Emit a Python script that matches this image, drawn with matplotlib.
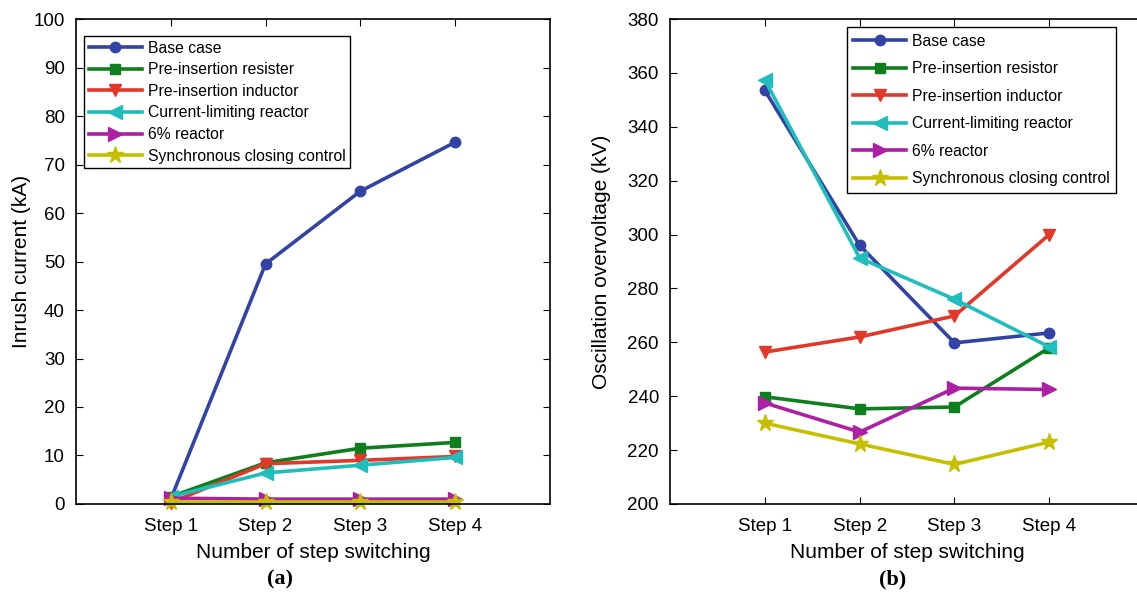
import numpy as np
import matplotlib.pyplot as plt

plt.rcParams['font.family'] = ['Liberation Sans', 'DejaVu Sans']

steps = ['Step 1', 'Step 2', 'Step 3', 'Step 4']
x = np.arange(1, 5)

# inrush current (kA)
inrush_base = [1.0, 49.5, 64.5, 74.6]
inrush_res = [1.5, 8.5, 11.5, 12.7]
inrush_ind = [0.3, 8.3, 9.0, 9.8]
inrush_clr = [1.5, 6.4, 8.0, 9.6]
inrush_6pct = [1.2, 1.0, 1.0, 1.0]
inrush_sync = [0.5, 0.5, 0.5, 0.5]

# oscillation overvoltage (kV)
ov_base = [353.5, 296.0, 259.8, 263.5]
ov_res = [239.8, 235.3, 236.0, 258.0]
ov_ind = [256.4, 262.0, 269.8, 300.0]
ov_clr = [357.4, 291.3, 276.0, 258.3]
ov_6pct = [237.5, 226.7, 243.0, 242.5]
ov_sync = [230.0, 222.3, 214.7, 223.0]

colors = ['#3343a3', '#0e7f1c', '#e3372a', '#20bdbd', '#ad1fa3', '#c6bf00']
markers = ['o', 's', 'v', '<', '>', '*']
msizes = [7.5, 7.5, 8.5, 9.5, 9.5, 12.5]

labels_a = ['Base case', 'Pre-insertion resister', 'Pre-insertion inductor',
            'Current-limiting reactor', '6% reactor', 'Synchronous closing control']
labels_b = ['Base case', 'Pre-insertion resistor', 'Pre-insertion inductor',
            'Current-limiting reactor', '6% reactor', 'Synchronous closing control']

fig = plt.figure(figsize=(11.37, 5.98), dpi=100)
ax1 = fig.add_axes([0.0668, 0.1572, 0.4169, 0.811])
ax2 = fig.add_axes([0.5893, 0.1572, 0.4169, 0.811])

def draw(ax, series, labels):
    for i, ys in enumerate(series):
        ax.plot(x, ys, color=colors[i], marker=markers[i], ms=msizes[i], lw=2.6,
                mec=colors[i], mfc=colors[i], label=labels[i], clip_on=False)
    ax.set_xlim(0, 5)
    ax.set_xticks(x)
    ax.set_xticklabels(steps)
    ax.tick_params(direction='in', top=True, right=True, labelsize=13.5, length=5)
    ax.tick_params(axis='x', pad=10)
    ax.tick_params(axis='y', pad=8)
    ax.set_xlabel('Number of step switching', fontsize=15, labelpad=6)
    for s in ax.spines.values():
        s.set_linewidth(1.2)

draw(ax1, [inrush_base, inrush_res, inrush_ind, inrush_clr, inrush_6pct, inrush_sync], labels_a)
ax1.set_ylim(0, 100)
ax1.set_yticks(np.arange(0, 101, 10))
ax1.set_ylabel('Inrush current (kA)', fontsize=15, labelpad=2)
leg1 = ax1.legend(loc='upper left', bbox_to_anchor=(0.017, 0.965), fontsize=11.3,
                  handlelength=3.4, handletextpad=0.35, labelspacing=0.42, borderaxespad=0,
                  fancybox=False, edgecolor='black', framealpha=1, borderpad=0.3)
leg1.get_frame().set_linewidth(1.0)

draw(ax2, [ov_base, ov_res, ov_ind, ov_clr, ov_6pct, ov_sync], labels_b)
ax2.set_ylim(200, 380)
ax2.set_yticks(np.arange(200, 381, 20))
ax2.set_ylabel('Oscillation overvoltage (kV)', fontsize=15, labelpad=12)
leg2 = ax2.legend(loc='upper left', bbox_to_anchor=(0.373, 0.983), fontsize=11.3,
                  handlelength=3.4, handletextpad=0.35, labelspacing=0.8, borderaxespad=0,
                  fancybox=False, edgecolor='black', framealpha=1, borderpad=0.4)
leg2.get_frame().set_linewidth(1.0)

fig.text(0.246, 0.022, '(a)', fontsize=16, fontweight='bold', ha='center',
         family=['Liberation Serif', 'DejaVu Serif'])
fig.text(0.785, 0.022, '(b)', fontsize=16, fontweight='bold', ha='center',
         family=['Liberation Serif', 'DejaVu Serif'])

fig.savefig('out.png', dpi=100)
